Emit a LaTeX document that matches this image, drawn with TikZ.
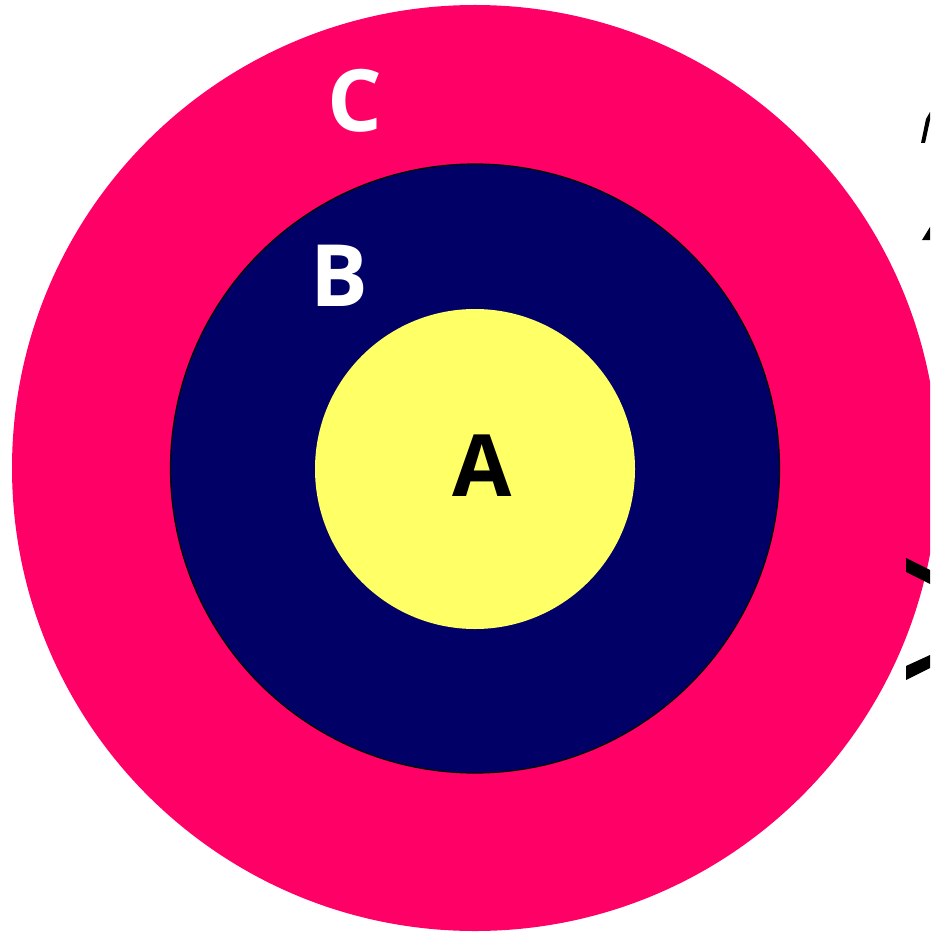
\documentclass[tikz,border=0pt]{standalone}
\usepackage{fontspec}
\setmainfont{Open Sans}
\definecolor{ringC}{HTML}{FF0066}
\definecolor{ringB}{HTML}{000066}
\definecolor{ringA}{HTML}{FFFF66}
\begin{document}
\begin{tikzpicture}[x=1pt,y=-1pt,
  disc/.style={circle,inner sep=0pt,outer sep=0pt},
  lbl/.style={inner sep=0pt,font=\fontsize{86}{90}\selectfont\bfseries},
  frag/.style={fill=black,draw=none}]
\clip (0,0) rectangle (930,933);
\fill[white] (0,0) rectangle (930,933);
\node[disc,fill=ringC,minimum size=926pt] (C) at (475,468) {};
\node[disc,fill=ringB,draw=black,line width=1.2pt,minimum size=609pt] (B) at (475,468.5) {};
\node[disc,fill=ringA,minimum size=320pt] (A) at (475,469) {};
\node[lbl,text=black] (tA) at (482,466) {A};
\node[lbl,text=white] (tB) at (339,276) {B};
\node[lbl,text=white] (tC) at (355,101) {C};
% cut-off fragments at the right edge
\fill[frag] (921,143) -- (925,143) -- (930,120) -- (930,112) -- (926,119) -- cycle;
\fill[frag] (922,240) -- (930,240) -- (930,227) -- cycle;
\fill[frag] (906,558) -- (930,570) -- (930,584) -- (906,572) -- cycle;
\fill[frag] (906,666) -- (930,655) -- (930,668) -- (906,680) -- cycle;
\end{tikzpicture}
\end{document}
